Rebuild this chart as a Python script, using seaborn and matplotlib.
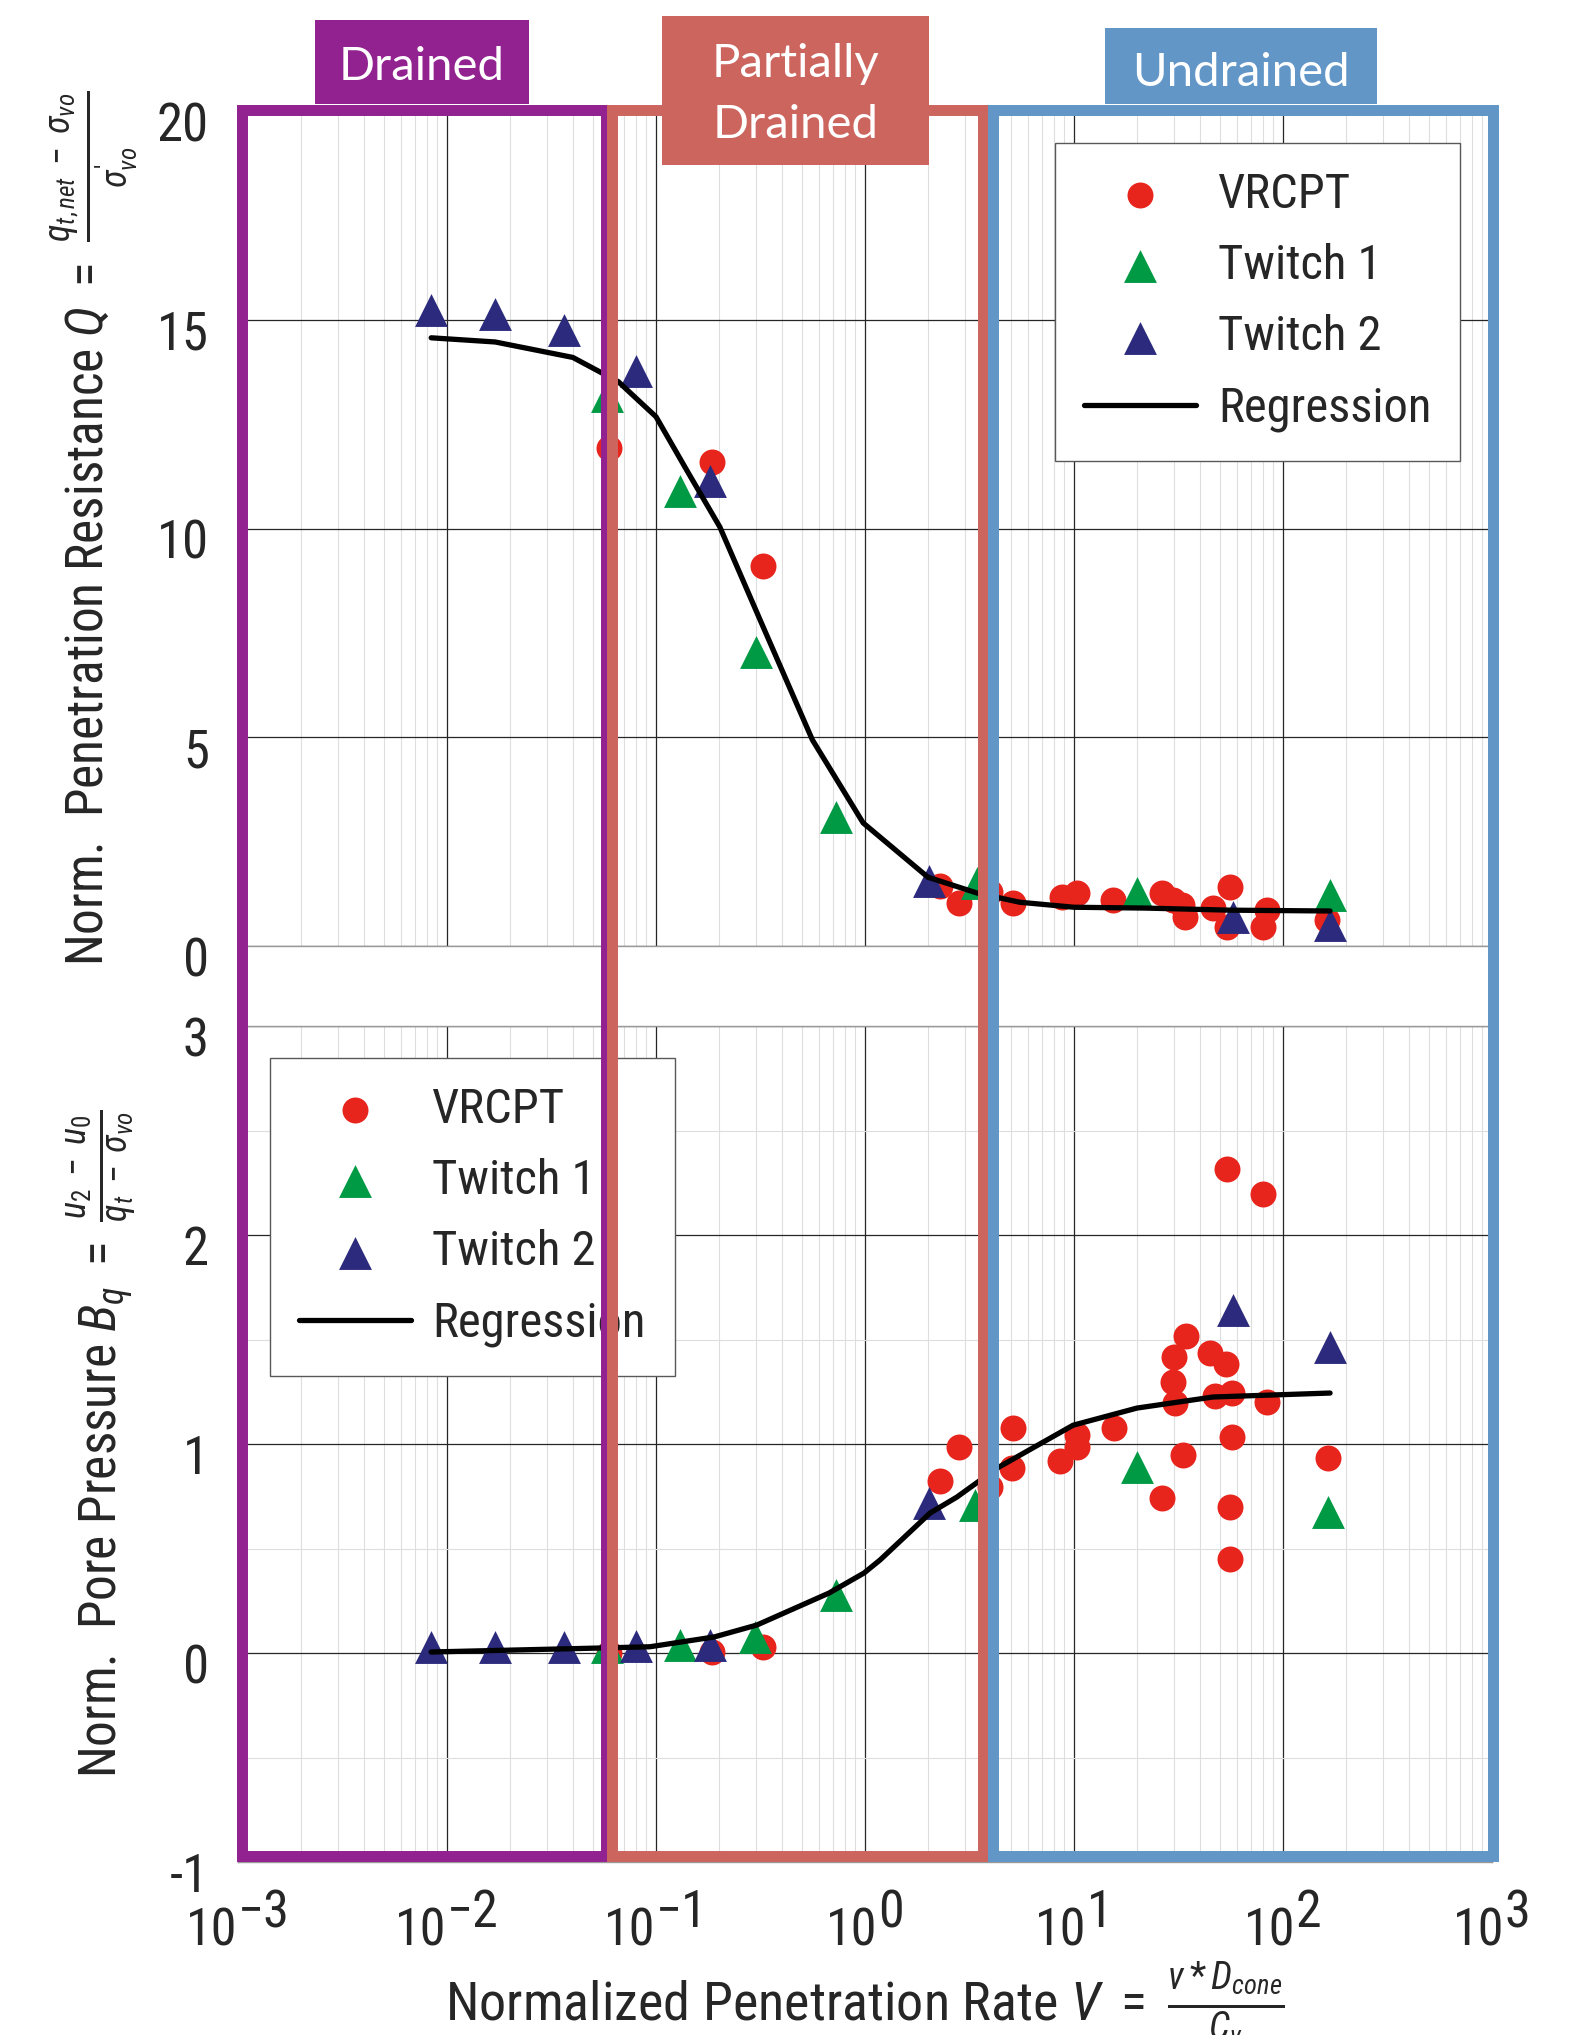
import numpy as np
import seaborn as sns
import matplotlib.pyplot as plt
import matplotlib.transforms as mtransforms
from matplotlib.patches import Rectangle
from matplotlib.ticker import MultipleLocator, NullLocator, LogLocator, NullFormatter

# ---- data ----
# top panel: normalized penetration resistance Q
v_q_vrcpt = [0.0596, 0.185, 0.325, 2.29, 2.82, 3.96, 5.1, 8.77, 10.3, 15.4,
             26.4, 29.8, 32.9, 34.0, 46.3, 55.7, 53.9, 83.7, 80.2, 162]
q_vrcpt = [11.93, 11.6, 9.1, 1.44, 1.03, 1.29, 1.03, 1.18, 1.26, 1.1,
           1.26, 1.1, 0.98, 0.70, 0.91, 1.42, 0.46, 0.86, 0.46, 0.62]
v_q_twitch1 = [0.0584, 0.130, 0.30, 0.73, 3.43, 20.0, 168]
q_twitch1 = [13.18, 10.9, 7.05, 3.08, 1.5, 1.27, 1.22]
v_q_twitch2 = [0.0084, 0.017, 0.0363, 0.080, 0.181, 2.02, 57.7, 168]
q_twitch2 = [15.24, 15.14, 14.76, 13.78, 11.14, 1.55, 0.70, 0.50]
v_q_reg = [0.0084, 0.017, 0.040, 0.055, 0.066, 0.080, 0.100, 0.141, 0.202,
           0.315, 0.56, 0.98, 2.0, 3.44, 5.5, 10.0, 22.0, 56.0, 168]
q_reg = [14.57, 14.47, 14.1, 13.73, 13.52, 13.13, 12.68, 11.38, 10.04,
         7.81, 4.94, 2.95, 1.65, 1.27, 1.05, 0.93, 0.91, 0.86, 0.84]

# bottom panel: normalized pore pressure Bq
v_b_vrcpt = [0.0596, 0.185, 0.325, 2.29, 2.82, 3.96, 5.05, 5.1, 8.57, 10.3,
             10.3, 15.5, 26.4, 29.8, 30.1, 30.4, 33.3, 34.4, 44.8, 47.3,
             53.3, 53.9, 55.7, 55.7, 57.0, 57.0, 80.2, 83.7, 164]
b_vrcpt = [0.0, 0.005, 0.03, 0.823, 0.986, 0.794, 0.885, 1.077, 0.919, 0.986,
           1.043, 1.077, 0.742, 1.297, 1.416, 1.196, 0.947, 1.517, 1.435, 1.23,
           1.383, 2.316, 0.699, 0.45, 1.244, 1.033, 2.196, 1.201, 0.933]
v_b_twitch1 = [0.058, 0.13, 0.298, 0.726, 3.36, 20.0, 164]
b_twitch1 = [0.03, 0.04, 0.077, 0.277, 0.71, 0.89, 0.675]
v_b_twitch2 = [0.0084, 0.017, 0.0363, 0.080, 0.181, 2.02, 57.7, 168]
b_twitch2 = [0.03, 0.03, 0.03, 0.035, 0.04, 0.72, 1.64, 1.465]
v_b_reg = [0.0084, 0.054, 0.0935, 0.19, 0.304, 0.673, 0.99, 1.18, 2.05, 2.75,
           4.29, 9.9, 20.0, 46.2, 168]
b_reg = [0.005, 0.024, 0.03, 0.077, 0.134, 0.287, 0.383, 0.445, 0.67, 0.746,
         0.885, 1.09, 1.172, 1.225, 1.244]

# drainage regions
region_names = ["Drained", "Partially\nDrained", "Undrained"]
region_lo = [0.00104, 0.0615, 4.1]
region_hi = [0.0577, 3.67, 1010]

# ---- styling ----
RED, GREEN, NAVY = "#E8251C", "#009944", "#2B2A7C"
region_colors = ["#92228F", "#CD655F", "#6196C7"]
NARROW = "Roboto Condensed"

sns.set_theme(style="white")
plt.rcParams["font.family"] = [NARROW, "DejaVu Sans"]
plt.rcParams["mathtext.fontset"] = "custom"
plt.rcParams["mathtext.rm"] = NARROW
plt.rcParams["mathtext.it"] = NARROW + ":italic"
plt.rcParams["mathtext.bf"] = NARROW + ":bold"
plt.rcParams["axes.unicode_minus"] = False

fig = plt.figure(figsize=(15.69, 20.35), dpi=100)
ax_q = fig.add_axes([0.1517, 0.5351, 0.7992, 0.4103])
ax_b = fig.add_axes([0.1517, 0.0850, 0.7992, 0.4108])


def draw_panel(ax, vr, yr, v1, y1, v2, y2, vreg, yreg):
    ax.set_xscale("log")
    sns.scatterplot(x=vr, y=yr, ax=ax, color=RED, marker="o", s=350,
                    linewidth=0, label="VRCPT", zorder=3)
    sns.scatterplot(x=v1, y=y1, ax=ax, color=GREEN, marker="^", s=560,
                    linewidth=0, label="Twitch 1", zorder=3)
    sns.scatterplot(x=v2, y=y2, ax=ax, color=NAVY, marker="^", s=560,
                    linewidth=0, label="Twitch 2", zorder=3)
    sns.lineplot(x=vreg, y=yreg, ax=ax, color="black", lw=3.8,
                 estimator=None, label="Regression", zorder=4)


def style_axes(ax, ylim, major, minor):
    ax.set_xlim(1e-3, 1e3)
    ax.set_ylim(*ylim)
    ax.xaxis.set_major_locator(LogLocator(base=10, numticks=10))
    ax.xaxis.set_minor_locator(LogLocator(base=10, subs=np.arange(2, 10), numticks=100))
    ax.xaxis.set_major_formatter(NullFormatter())
    ax.xaxis.set_minor_formatter(NullFormatter())
    ax.yaxis.set_major_locator(MultipleLocator(major))
    if minor:
        ax.yaxis.set_minor_locator(MultipleLocator(minor))
    else:
        ax.yaxis.set_minor_locator(NullLocator())
    ax.grid(which="minor", color="0.87", lw=0.8)
    ax.grid(which="major", color="0.15", lw=0.9)
    ax.set_axisbelow(True)
    ax.tick_params(which="both", length=0)
    ax.tick_params(axis="y", pad=21, labelsize=38)
    for s in ax.spines.values():
        s.set_color("0.6")
        s.set_linewidth(1)
    # y tick labels sit a little below their grid lines in the reference
    shift = mtransforms.ScaledTranslation(0, -10 / 100, fig.dpi_scale_trans)
    for lab in ax.get_yticklabels():
        lab.set_transform(lab.get_transform() + shift)


draw_panel(ax_q, v_q_vrcpt, q_vrcpt, v_q_twitch1, q_twitch1,
           v_q_twitch2, q_twitch2, v_q_reg, q_reg)
draw_panel(ax_b, v_b_vrcpt, b_vrcpt, v_b_twitch1, b_twitch1,
           v_b_twitch2, b_twitch2, v_b_reg, b_reg)
style_axes(ax_q, (0, 20), 5, None)
style_axes(ax_b, (-1, 3), 1, 0.5)

legend_kw = dict(fontsize=35, frameon=True, fancybox=False, edgecolor="0.35",
                 framealpha=1, handlelength=2.3, handletextpad=0.45,
                 labelspacing=0.52, borderaxespad=0.65, borderpad=0.6)
leg = ax_q.legend(loc="upper right", **legend_kw)
leg.get_frame().set_linewidth(1)
leg = ax_b.legend(loc="upper left", **legend_kw)
leg.get_frame().set_linewidth(1)

ax_q.set_xlabel("")
ax_q.set_ylabel(r"Norm.  Penetration Resistance $Q\ =\ \frac{q_{t,net}\;-\;\sigma_{vo}}{\sigma^{\prime}_{vo}}$",
                fontsize=37)
ax_b.set_ylabel(r"Norm.  Pore Pressure $B_q\ =\ \frac{u_2\;-\;u_0}{q_t\;-\;\sigma_{vo}}$",
                fontsize=37)
ax_b.set_xlabel(r"Normalized Penetration Rate $V\ =\ \frac{v*D_{cone}}{C_v}$",
                fontsize=39)
ax_q.yaxis.set_label_coords(-0.078, 0.5)
ax_b.yaxis.set_label_coords(-0.078, 0.5)
ax_b.xaxis.set_label_coords(0.5, -0.116)

# decade tick labels: exponent drawn at full size, as in the reference
fig.canvas.draw()
renderer = fig.canvas.get_renderer()
xt = ax_b.get_xaxis_transform()
px = 1 / fig.dpi
gap = 0
for v in ax_b.get_xticks():
    if v < 0.999e-3 or v > 1.001e3:
        continue
    n = int(round(np.log10(v)))
    base = ax_b.text(v, 0, "10", fontsize=37.5, ha="left", va="baseline",
                     transform=xt)
    expo = ax_b.text(v, 0, str(n).replace("-", "\u2212"), fontsize=37.5,
                     ha="left", va="baseline", transform=xt)
    w10 = base.get_window_extent(renderer).width
    we = expo.get_window_extent(renderer).width
    left = -(w10 + gap + we) / 2
    base.set_transform(xt + mtransforms.ScaledTranslation(
        left * px, -83 * px, fig.dpi_scale_trans))
    expo.set_transform(xt + mtransforms.ScaledTranslation(
        (left + w10 + gap) * px, -65 * px, fig.dpi_scale_trans))

# region frames and title boxes, spanning both panels
trans = mtransforms.blended_transform_factory(ax_b.transData, fig.transFigure)
frame_y0, frame_y1 = 0.0878, 0.9461
for lo, hi, col in zip(region_lo, region_hi, region_colors):
    fig.add_artist(Rectangle((lo, frame_y0), hi - lo, frame_y1 - frame_y0,
                             transform=trans, fill=False, edgecolor=col,
                             lw=7.9, zorder=10, clip_on=False))

box_x = [(0.00233, 0.0247), (0.107, 2.02), (14.06, 281.8)]
box_y = [(0.9489, 0.9902), (0.9189, 0.9921), (0.9489, 0.9862)]
text_y = [0.967, 0.9535, 0.9642]
for name, col, (x0, x1), (y0, y1), ty in zip(region_names, region_colors,
                                             box_x, box_y, text_y):
    fig.add_artist(Rectangle((x0, y0), x1 - x0, y1 - y0, transform=trans,
                             facecolor=col, edgecolor="none", zorder=11,
                             clip_on=False))
    fig.text(np.sqrt(x0 * x1), ty, name, transform=trans, color="white",
             fontsize=34, family="Lato", ha="center", va="center",
             linespacing=1.58, zorder=12)

fig.savefig("out.png", dpi=100)
